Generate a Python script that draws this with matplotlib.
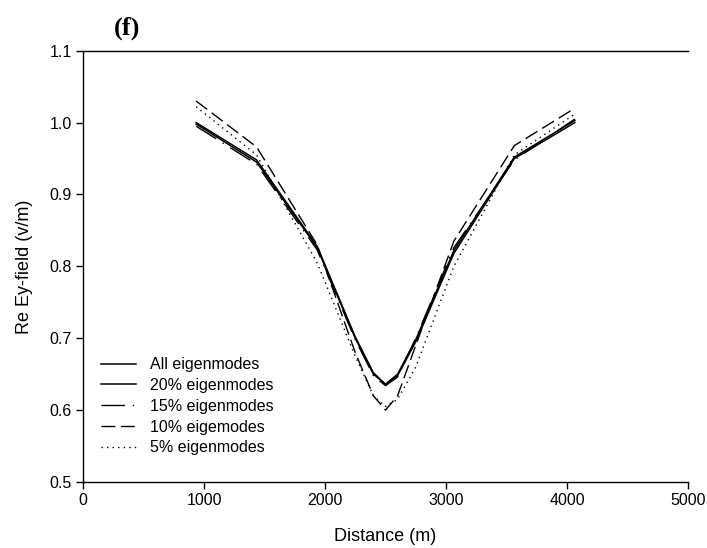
import matplotlib
matplotlib.use("Agg")
import matplotlib.pyplot as plt

plt.rcParams['font.family'] = ['Liberation Sans', 'DejaVu Sans']

x_all = [935, 1435, 1935, 2250, 2400, 2500, 2600, 2750, 3065, 3565, 4065]
y_all = [0.998, 0.945, 0.826, 0.700, 0.650, 0.636, 0.648, 0.695, 0.818, 0.950, 1.000]

x_20 = [935, 1435, 1935, 2250, 2400, 2500, 2600, 2750, 3065, 3565, 4065]
y_20 = [1.000, 0.948, 0.828, 0.702, 0.652, 0.636, 0.650, 0.698, 0.822, 0.952, 1.003]

x_15 = [935, 1435, 1935, 2250, 2400, 2500, 2600, 2750, 3065, 3565, 4065]
y_15 = [0.995, 0.942, 0.823, 0.698, 0.648, 0.634, 0.646, 0.700, 0.826, 0.948, 1.005]

x_10 = [935, 1435, 1935, 2250, 2400, 2500, 2600, 2750, 3065, 3565, 4065]
y_10 = [1.030, 0.966, 0.830, 0.680, 0.620, 0.600, 0.620, 0.690, 0.835, 0.968, 1.020]

x_5 = [935, 1435, 1935, 2250, 2400, 2500, 2600, 2750, 3065, 3565, 4065]
y_5 = [1.022, 0.955, 0.805, 0.675, 0.620, 0.605, 0.615, 0.660, 0.800, 0.955, 1.012]

labels = ["All eigenmodes", "20% eigenmodes", "15% eigenmodes", "10% eigemodes", "5% eigenmodes"]

fig = plt.figure(figsize=(7.07, 5.48), dpi=100)
ax = fig.add_axes([83/707, 1-482/548, (688-83)/707, (482-50.7)/548])

ax.plot(x_all, y_all, color='black', lw=1.1, label=labels[0])
ax.plot(x_20, y_20, color='black', lw=1.1, label=labels[1])
ax.plot(x_15, y_15, color='black', lw=1.0, dashes=(17, 5.5, 1, 5.5), label=labels[2])
ax.plot(x_10, y_10, color='black', lw=1.0, dashes=(10, 4), label=labels[3])
ax.plot(x_5, y_5, color='black', lw=1.0, dashes=(1, 3), label=labels[4])

ax.set_xlim(0, 5000)
ax.set_ylim(0.5, 1.1)
ax.set_xticks([0, 1000, 2000, 3000, 4000, 5000])
ax.set_yticks([0.5, 0.6, 0.7, 0.8, 0.9, 1.0, 1.1])
ax.set_yticklabels(['0.5', '0.6', '0.7', '0.8', '0.9', '1.0', '1.1'])
ax.tick_params(direction='out', length=5, width=1, labelsize=11.5, pad=3)
ax.spines['right'].set_visible(False)
for s in ax.spines.values():
    s.set_linewidth(1.0)

ax.set_xlabel('Distance (m)', fontsize=13, labelpad=14)
ax.set_ylabel('Re Ey-field (v/m)', fontsize=13, labelpad=12)

leg = ax.legend(loc='lower left', bbox_to_anchor=(0.02, 0.047), frameon=False,
                fontsize=11.5, handlelength=2.15, handletextpad=0.9, labelspacing=0.36,
                borderaxespad=0)

fig.text(127/707, 1-28/548, '(f)', fontsize=19, fontweight='bold',
         family='Liberation Serif', ha='center', va='center')

fig.savefig('out.png', dpi=100)
